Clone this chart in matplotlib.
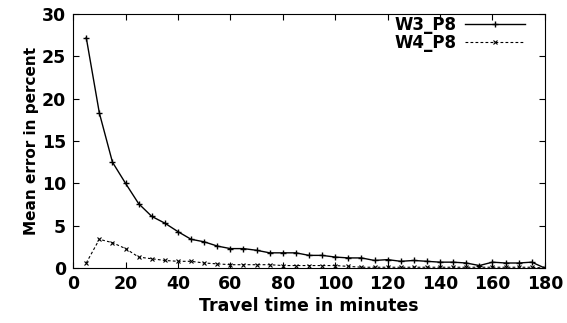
import matplotlib
matplotlib.use('Agg')
import matplotlib.pyplot as plt
import numpy as np

plt.rcParams['font.family'] = ['DejaVu Sans']
plt.rcParams['font.weight'] = 'bold'

minutes = list(range(5, 185, 5))
w3_p8 = [27.2, 18.3, 12.5, 10.0, 7.6, 6.1, 5.3, 4.3, 3.4, 3.1, 2.6, 2.3,
         2.3, 2.1, 1.8, 1.8, 1.8, 1.5, 1.5, 1.3, 1.2, 1.2, 0.9, 1.0,
         0.8, 0.9, 0.8, 0.7, 0.7, 0.6, 0.3, 0.7, 0.6, 0.6, 0.7, 0.0]
w4_p8 = [0.6, 3.4, 3.0, 2.3, 1.3, 1.1, 0.9, 0.8, 0.8, 0.6, 0.5, 0.4,
         0.4, 0.4, 0.4, 0.3, 0.3, 0.3, 0.3, 0.3, 0.2, 0.1, 0.1, 0.1,
         0.1, 0.1, 0.1, 0.1, 0.1, 0.1, 0.1, 0.1, 0.1, 0.1, 0.1, 0.0]

fig = plt.figure(figsize=(5.67, 3.23), dpi=100)
ax = fig.add_axes([0.129, 0.170, 0.832, 0.787])

ax.plot(minutes, w3_p8, color='black', lw=1.0, marker='+', ms=5, mew=1.0, label='W3_P8')
ax.plot(minutes, w4_p8, color='black', lw=0.8, ls=(0, (2.5, 2)), marker='x', ms=3.5, mew=0.8, label='W4_P8')

ax.set_xlim(0, 180)
ax.set_ylim(0, 30)
ax.set_xticks(np.arange(0, 181, 20))
ax.set_yticks(np.arange(0, 31, 5))
ax.tick_params(direction='in', top=True, right=True, length=4, labelsize=12.5, pad=5)
for lab in ax.get_xticklabels() + ax.get_yticklabels():
    lab.set_fontweight('bold')
ax.set_xlabel('Travel time in minutes', fontsize=12.5, fontweight='bold', labelpad=3)
ax.set_ylabel('Mean error in percent', fontsize=11, fontweight='bold', labelpad=2)

leg = ax.legend(loc='upper right', frameon=False, markerfirst=False, fontsize=12,
                handlelength=3.6, handletextpad=0.5, borderaxespad=0.1, labelspacing=0.0,
                bbox_to_anchor=(0.975, 1.025))
for t in leg.get_texts():
    t.set_fontweight('bold')

fig.savefig('out.png', dpi=100)
